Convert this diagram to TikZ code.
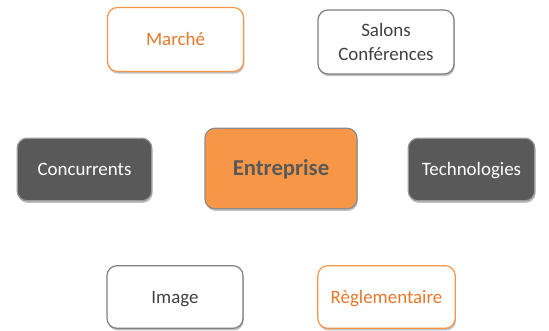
\documentclass[tikz,border=0pt]{standalone}
\usepackage{fontspec}
\setmainfont{Carlito}
\usetikzlibrary{shadows}
\definecolor{orfill}{HTML}{F79646}
\definecolor{ortext}{HTML}{E8782A}
\definecolor{dkfill}{HTML}{595959}
\definecolor{gtext}{HTML}{404040}
\definecolor{gborder}{HTML}{7F7F7F}
\begin{document}
\begin{tikzpicture}[x=0.75pt,y=-0.75pt,
  box/.style={rectangle, rounded corners=7.5pt, line width=0.9pt, align=center,
    font=\fontsize{14.2}{17.5}\selectfont, inner sep=0pt,
    drop shadow={shadow xshift=0.6pt, shadow yshift=-1.6pt, opacity=0.35, fill=black!70}},
  oneline/.style={text height=9.2pt, text depth=0pt},
  whitebox/.style={box, fill=white, draw=gborder, text=gtext},
  orangebox/.style={box, fill=white, draw=orfill, text=ortext},
  darkbox/.style={box, fill=dkfill, draw=gborder!80, text=white},
  centerbox/.style={box, fill=orfill, draw=gborder!90, text=dkfill,
    font=\fontsize{17}{20}\selectfont\bfseries, text height=11pt, text depth=0pt}]
\useasboundingbox (0,0) rectangle (549,331);
\node[orangebox, oneline, minimum width=102pt, minimum height=48pt] (marche) at (175.5,39.5) {Marché};
\node[whitebox, minimum width=102pt, minimum height=48pt] (salons) at (386,42) {Salons\\Conférences};
\node[darkbox, oneline, minimum width=101pt, minimum height=47pt] (conc) at (84.5,169.5) {Concurrents};
\node[centerbox, minimum width=114pt, minimum height=60.5pt] (ent) at (281,168.5) {Entreprise};
\node[darkbox, oneline, minimum width=95pt, minimum height=47pt] (tech) at (471.5,169.5) {Technologies};
\node[whitebox, oneline, minimum width=102pt, minimum height=47pt] (image) at (175,297) {Image};
\node[orangebox, oneline, minimum width=103pt, minimum height=47pt] (regl) at (386.5,297) {Règlementaire};
\end{tikzpicture}
\end{document}
